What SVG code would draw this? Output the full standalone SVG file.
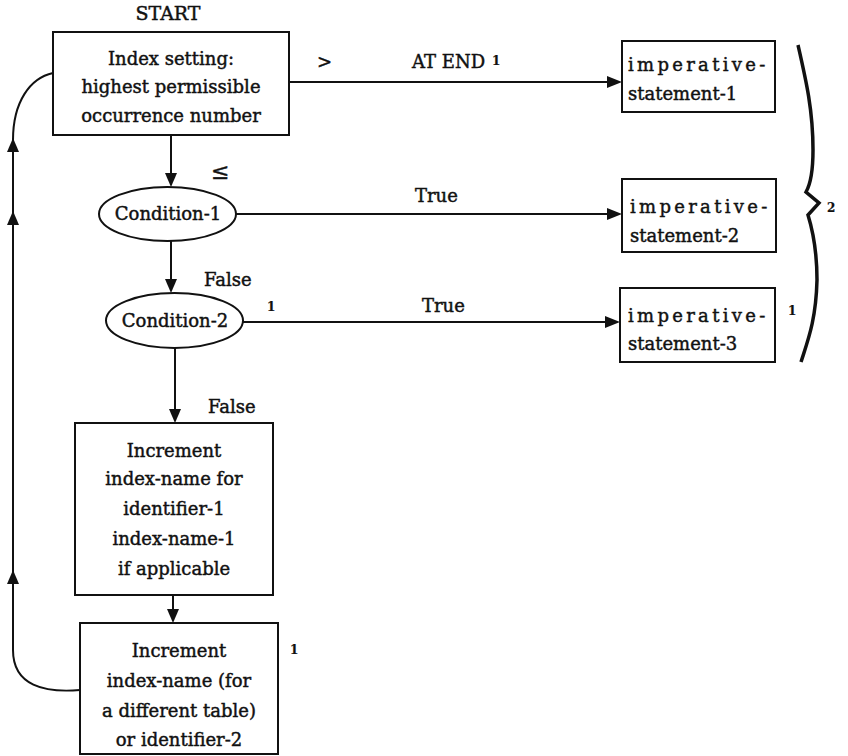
<svg xmlns="http://www.w3.org/2000/svg" width="848" height="756" viewBox="0 0 848 756">
<style>
text{font-family:"DejaVu Serif","Liberation Serif",serif;font-size:18px;fill:#111;stroke:#111;stroke-width:0.45}
.c{text-anchor:middle}
.sp{letter-spacing:3.3px}
.sm{font-size:12px;font-weight:bold;stroke-width:0.2}
.box{fill:#fff;stroke:#111;stroke-width:2}
.ln{fill:none;stroke:#111;stroke-width:2}
.ah{fill:#111}
</style>
<rect width="848" height="756" fill="#fff"/>
<g id="connectors">
  <path class="ln" d="M289,82 H608"/>
  <polygon class="ah" points="622,82 607,76 607,88"/>
  <path class="ln" d="M236,214 H608"/>
  <polygon class="ah" points="622,214 607,208 607,220"/>
  <path class="ln" d="M243,322 H606"/>
  <polygon class="ah" points="620,322 605,316 605,328"/>
  <path class="ln" d="M171,135 V174"/>
  <polygon class="ah" points="171,187 165,173 177,173"/>
  <path class="ln" d="M171,241 V280"/>
  <polygon class="ah" points="171,293 165,279 177,279"/>
  <path class="ln" d="M175,348 V410"/>
  <polygon class="ah" points="175,423 169,409 181,409"/>
  <path class="ln" d="M173,595 V610"/>
  <polygon class="ah" points="173,623 167,609 179,609"/>
  <path class="ln" d="M80,690 C45,693 13,686 13,650 L13,140 C13,102 30,78 53,73"/>
  <polygon class="ah" points="13,570 7,584 19,584"/>
  <polygon class="ah" points="13,211 7,225 19,225"/>
  <polygon class="ah" points="13,138 7,152 19,152"/>
  <text x="317" y="68">&gt;</text>
  <text x="412" y="68">AT END</text>
  <text x="492" y="65" class="sm">1</text>
  <text x="415" y="202">True</text>
  <text x="422" y="312">True</text>
  <text x="211" y="179" style="font-size:22px">≤</text>
  <text x="204" y="286">False</text>
  <text x="208" y="413">False</text>
  <text x="267" y="311" class="sm">1</text>
</g>
<g id="start"><text x="168" y="20" class="c" style="font-size:19px">START</text></g>
<g id="index-setting">
  <rect class="box" x="53" y="32" width="236" height="103"/>
  <text class="c" x="171" y="65">Index setting:</text>
  <text class="c" x="171" y="93">highest permissible</text>
  <text class="c" x="171" y="122">occurrence number</text>
</g>
<g id="condition-1">
  <ellipse class="box" cx="167.5" cy="214" rx="68.5" ry="27"/>
  <text class="c" x="168" y="220">Condition-1</text>
</g>
<g id="condition-2">
  <ellipse class="box" cx="174.5" cy="320.5" rx="68.5" ry="27.5"/>
  <text class="c" x="175" y="327">Condition-2</text>
</g>
<g id="imperative-1">
  <rect class="box" x="622" y="41" width="153" height="71"/>
  <text class="sp" x="628" y="71">imperative-</text>
  <text x="628" y="100">statement-1</text>
</g>
<g id="imperative-2">
  <rect class="box" x="622" y="179" width="154" height="73"/>
  <text class="sp" x="630" y="213">imperative-</text>
  <text x="630" y="242">statement-2</text>
</g>
<g id="imperative-3">
  <rect class="box" x="620" y="288" width="155" height="74"/>
  <text class="sp" x="628" y="322">imperative-</text>
  <text x="628" y="350">statement-3</text>
  <text x="788" y="315" class="sm">1</text>
</g>
<g id="brace">
  <path d="M798,45 C806,80 813,110 813,150 C813,175 810,185 806,192 L819,203 L808,215 C812,228 817,250 817,280 C816,320 808,340 801,362" fill="none" stroke="#111" stroke-width="3.5" stroke-linejoin="miter"/>
  <text x="827" y="212" class="sm">2</text>
</g>
<g id="increment-1">
  <rect class="box" x="75" y="423" width="198" height="172"/>
  <text class="c" x="174" y="457">Increment</text>
  <text class="c" x="174" y="485">index-name for</text>
  <text class="c" x="174" y="515">identifier-1</text>
  <text class="c" x="174" y="545">index-name-1</text>
  <text class="c" x="174" y="575">if applicable</text>
</g>
<g id="increment-2">
  <rect class="box" x="80" y="623" width="198" height="131"/>
  <text class="c" x="179" y="657">Increment</text>
  <text class="c" x="179" y="687">index-name (for</text>
  <text class="c" x="179" y="717">a different table)</text>
  <text class="c" x="179" y="746">or identifier-2</text>
  <text x="290" y="654" class="sm">1</text>
</g>
</svg>
